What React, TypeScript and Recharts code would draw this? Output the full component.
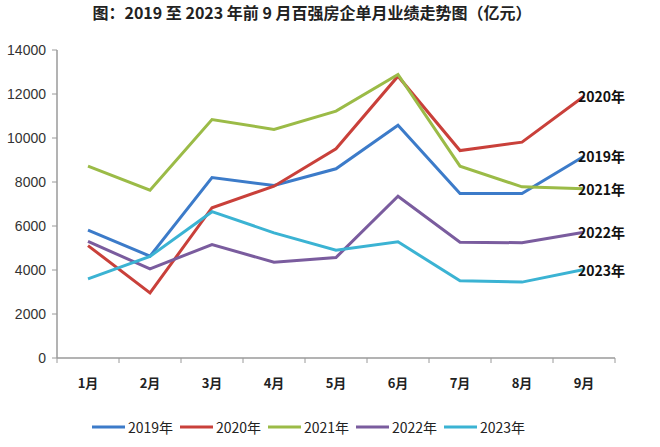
import { LineChart, Line, XAxis, YAxis, Legend, LabelList } from "recharts";

const months = ["1月", "2月", "3月", "4月", "5月", "6月", "7月", "8月", "9月"];
const yearNames = ["2019年", "2020年", "2021年", "2022年", "2023年"];

const sales2019 = [5810, 4630, 8200, 7840, 8600, 10580, 7480, 7480, 9170];
const sales2020 = [5110, 2960, 6830, 7810, 9510, 12810, 9430, 9810, 11900];
const sales2021 = [8720, 7630, 10840, 10390, 11220, 12890, 8720, 7780, 7690];
const sales2022 = [5300, 4050, 5160, 4350, 4570, 7350, 5260, 5240, 5720];
const sales2023 = [3600, 4620, 6650, 5690, 4900, 5280, 3510, 3450, 4020];

const yTicks = [0, 2000, 4000, 6000, 8000, 10000, 12000, 14000];

const seriesValues = [sales2019, sales2020, sales2021, sales2022, sales2023];
const colors = ["#3c7bc9", "#c9403a", "#9bbb47", "#7a5c9e", "#3bb3d3"];

const data = months.map((m, i) => {
  const row: Record<string, string | number> = { month: m };
  yearNames.forEach((y, s) => {
    row[y] = seriesValues[s][i];
  });
  return row;
});

const HALF_BAND = 31;
const AXIS_COLOR = "#9a9a9a";
const CJK = '"Noto Sans CJK SC", "Noto Sans", sans-serif';

function MonthTick(props: any) {
  const { x, y, payload, index } = props;
  return (
    <g>
      <line x1={x - HALF_BAND} y1={y} x2={x - HALF_BAND} y2={y + 5} stroke={AXIS_COLOR} />
      {index === months.length - 1 && (
        <line x1={x + HALF_BAND} y1={y} x2={x + HALF_BAND} y2={y + 5} stroke={AXIS_COLOR} />
      )}
      <text
        x={x}
        y={y + 24}
        textAnchor="middle"
        dominantBaseline="central"
        fontFamily={CJK}
        fontWeight="bold"
        fontSize={13}
        fill="#222"
      >
        {payload.value}
      </text>
    </g>
  );
}

function endLabel(name: string) {
  return (props: any) => {
    const { x, y, index } = props;
    if (index !== months.length - 1) return null;
    return (
      <text
        x={x - 6}
        y={y}
        dominantBaseline="central"
        fontFamily={CJK}
        fontWeight="bold"
        fontSize={14}
        fill="#111"
      >
        {name}
      </text>
    );
  };
}

function LegendBox() {
  return (
    <div
      style={{
        height: 55,
        display: "flex",
        alignItems: "center",
        paddingLeft: 92,
        paddingTop: 14,
        boxSizing: "border-box",
        fontFamily: CJK,
        fontSize: 14,
        color: "#222",
      }}
    >
      {yearNames.map((name, i) => (
        <div key={name} style={{ display: "flex", alignItems: "center", width: 88 }}>
          <svg width={33} height={4} style={{ marginRight: 3 }}>
            <line x1={0} y1={2} x2={33} y2={2} stroke={colors[i]} strokeWidth={3} />
          </svg>
          <span>{name}</span>
        </div>
      ))}
    </div>
  );
}

export default function App() {
  return (
    <div
      style={{
        position: "absolute",
        top: 0,
        left: 0,
        width: 660,
        height: 447,
        background: "#fff",
      }}
    >
      <div
        style={{
          position: "absolute",
          top: 2,
          left: 0,
          width: 624,
          textAlign: "center",
          fontFamily: CJK,
          fontWeight: "bold",
          fontSize: 16,
          color: "#222",
          lineHeight: "20px",
        }}
      >
        图：2019 至 2023 年前 9 月百强房企单月业绩走势图（亿元）
      </div>
      <LineChart
        width={660}
        height={447}
        data={data}
        margin={{ top: 50, right: 45, left: 0, bottom: 0 }}
      >
        <XAxis
          dataKey="month"
          padding={{ left: HALF_BAND, right: HALF_BAND }}
          axisLine={{ stroke: AXIS_COLOR, strokeWidth: 1.5 }}
          tickLine={false}
          tickSize={0}
          tickMargin={0}
          height={34}
          interval={0}
          tick={<MonthTick />}
        />
        <YAxis
          width={57}
          domain={[0, 14000]}
          ticks={yTicks}
          interval={0}
          axisLine={{ stroke: AXIS_COLOR, strokeWidth: 1.5 }}
          tickLine={{ stroke: AXIS_COLOR }}
          tickSize={5}
          tickMargin={6}
          tick={{ fill: "#333", fontSize: 14, fontFamily: '"Liberation Sans", Arial, sans-serif' }}
        />
        <Legend
          verticalAlign="bottom"
          wrapperStyle={{ left: 0, width: 660 }}
          content={() => <LegendBox />}
        />
        {yearNames.map((name, i) => (
          <Line
            key={name}
            type="linear"
            dataKey={name}
            stroke={colors[i]}
            strokeWidth={3}
            dot={false}
            activeDot={false}
            isAnimationActive={false}
          >
            <LabelList dataKey={name} content={endLabel(name)} />
          </Line>
        ))}
      </LineChart>
    </div>
  );
}
